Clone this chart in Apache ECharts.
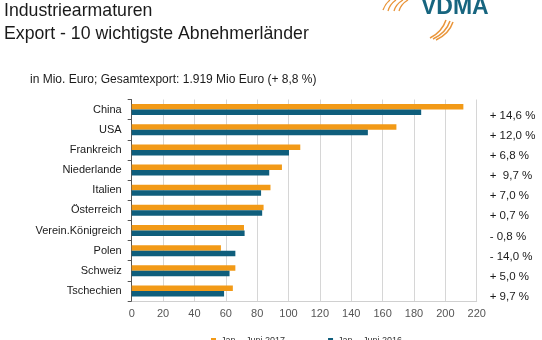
<!DOCTYPE html>
<html><head><meta charset="utf-8">
<script src="https://cdn.jsdelivr.net/npm/echarts@6/dist/echarts.min.js"></script>
<style>html,body{margin:0;padding:0;background:#fff}#c{width:542px;height:340px}</style>
</head><body><div id="c"></div>
<script>
const categories = ['China','USA','Frankreich','Niederlande','Italien','Österreich','Verein.Königreich','Polen','Schweiz','Tschechien'];
const values2017 = [211.5,168.8,107.5,95.8,88.5,84.1,71.6,56.9,66.1,64.5];
const values2016 = [184.6,150.6,100.3,87.7,82.5,83.2,72.0,66.1,62.4,58.9];
const changes = ['+ 14,6 %','+ 12,0 %','+ 6,8 %','+  9,7 %','+ 7,0 %','+ 0,7 %','- 0,8 %','- 14,0 %','+ 5,0 %','+ 9,7 %'];
const xTicks = [0,20,40,60,80,100,120,140,160,180,200,220];
const seriesNames = ['Jan. - Juni 2017','Jan. - Juni 2016'];

const FONT = 'Liberation Sans, Arial, sans-serif';
const chart = echarts.init(document.getElementById('c'), null, {renderer:'canvas'});
chart.setOption({
  animation:false,
  textStyle:{fontFamily:FONT},
  title:[
    {text:'Industriearmaturen\nExport - 10 wichtigste Abnehmerländer', left:4, top:0, padding:0,
     textStyle:{fontFamily:FONT,fontSize:17.7,fontWeight:'normal',color:'#1a1a1a',lineHeight:23}},
    {text:'in Mio. Euro; Gesamtexport: 1.919 Mio Euro (+ 8,8 %)', left:30, top:74, padding:0,
     textStyle:{fontFamily:FONT,fontSize:12,fontWeight:'normal',color:'#1a1a1a'}}
  ],
  legend:{left:211, top:336, padding:0, itemWidth:5, itemHeight:5, itemGap:43, icon:'rect',
    textStyle:{fontFamily:FONT,fontSize:9,color:'#333'}, data:seriesNames},
  grid:{left:131.7, right:65.3, top:99.5, bottom:39, containLabel:false},
  xAxis:{type:'value', min:xTicks[0], max:xTicks[xTicks.length-1], interval:20,
    axisLine:{show:true,lineStyle:{color:'#d0d0d0'}}, axisTick:{show:false},
    splitLine:{show:true,lineStyle:{color:'#d6d6d6',width:1}},
    axisLabel:{fontFamily:FONT,fontSize:11,color:'#555',margin:7}},
  yAxis:[
    {type:'category', data:categories, inverse:true,
     axisLine:{show:true,lineStyle:{color:'#555'}},
     axisTick:{show:true,length:4,lineStyle:{color:'#555'}},
     axisLabel:{fontFamily:FONT,fontSize:11,color:'#1a1a1a',margin:10}},
    {type:'category', data:changes, inverse:true, position:'right',
     axisLine:{show:false}, axisTick:{show:false},
     axisLabel:{fontFamily:FONT,fontSize:11.5,color:'#1a1a1a',margin:13,verticalAlign:'top'}}
  ],
  series:[
    {name:seriesNames[0], type:'bar', data:values2017, yAxisIndex:0,
     itemStyle:{color:'#F29A17'}, barWidth:5.5, barGap:'0%', barCategoryGap:'45%'},
    {name:seriesNames[1], type:'bar', data:values2016, yAxisIndex:0,
     itemStyle:{color:'#0F5E7C'}, barWidth:5.5, barGap:'0%'}
  ],
  graphic:[
    {type:'text', left:421, top:-4, style:{text:'VDMA', fontFamily:FONT, fontSize:23, fontWeight:'bold', fill:'#17657f'}},
    {type:'group', children:[
      {type:'bezierCurve', shape:{x1:383,y1:10,x2:390,y2:0,cpx1:385,cpy1:4}, style:{stroke:'#E9953A',lineWidth:1.3,fill:null}},
      {type:'bezierCurve', shape:{x1:388,y1:11,x2:396,y2:0,cpx1:390,cpy1:4}, style:{stroke:'#E9953A',lineWidth:1.3,fill:null}},
      {type:'bezierCurve', shape:{x1:394,y1:11,x2:403,y2:0,cpx1:396,cpy1:4}, style:{stroke:'#E9953A',lineWidth:1.3,fill:null}},
      {type:'bezierCurve', shape:{x1:399,y1:11,x2:408,y2:0,cpx1:401,cpy1:4}, style:{stroke:'#E9953A',lineWidth:1.3,fill:null}},
      {type:'bezierCurve', shape:{x1:430,y1:38,x2:446,y2:20,cpx1:442,cpy1:32}, style:{stroke:'#E9953A',lineWidth:1.5,fill:null}},
      {type:'bezierCurve', shape:{x1:433,y1:39,x2:450,y2:21,cpx1:446,cpy1:33}, style:{stroke:'#E9953A',lineWidth:1.5,fill:null}},
      {type:'bezierCurve', shape:{x1:436,y1:40,x2:453,y2:22,cpx1:449,cpy1:34}, style:{stroke:'#E9953A',lineWidth:1.5,fill:null}}
    ]}
  ]
});
</script></body></html>
